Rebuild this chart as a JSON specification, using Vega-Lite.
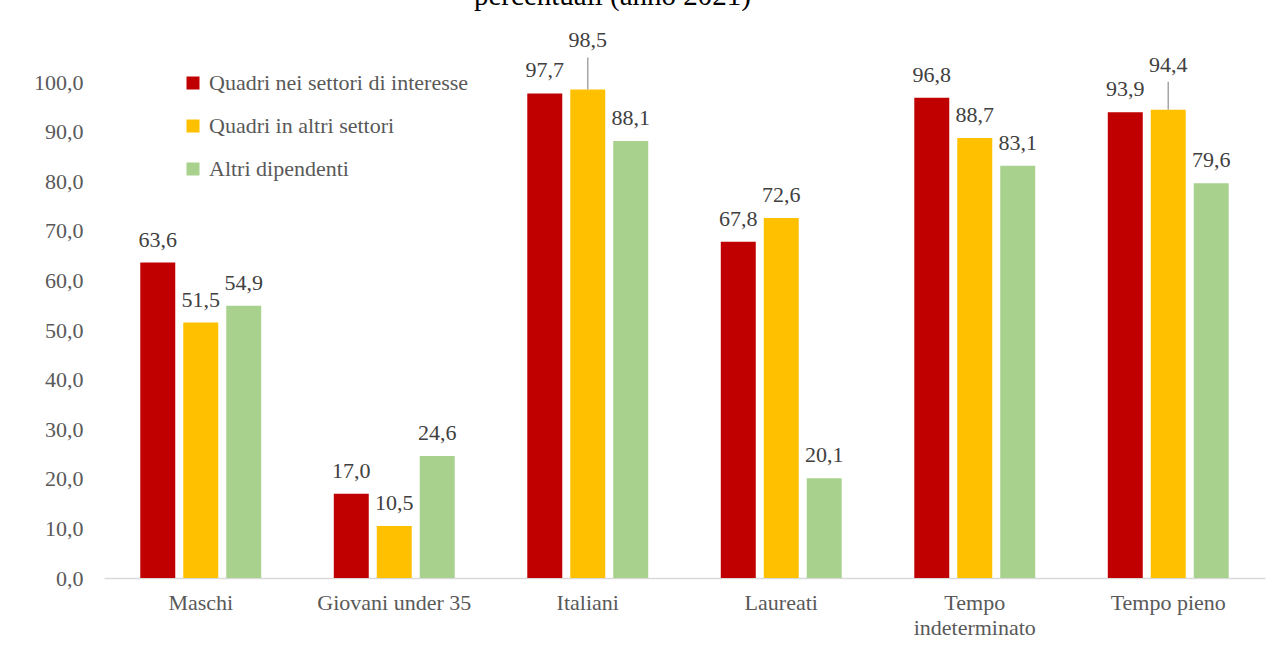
{
  "$schema": "https://vega.github.io/schema/vega-lite/v6.json",
  "autosize": "none",
  "width": 1161,
  "height": 496,
  "padding": {"left": 104, "top": 82, "right": 19, "bottom": 68},
  "background": "white",
  "title": {
    "text": "percentuali (anno 2021)",
    "font": "Liberation Serif",
    "fontSize": 29,
    "fontWeight": "normal",
    "color": "#000000",
    "anchor": "middle",
    "dx": -72,
    "dy": 25,
    "baseline": "alphabetic",
    "offset": 20
  },
  "config": {
    "locale": {"number": {"decimal": ",", "thousands": ".", "grouping": [3], "currency": ["€", ""]}},
    "view": {"stroke": null}
  },
  "data": {
    "values": [
      {"cat": "Maschi", "series": "Quadri nei settori di interesse", "value": 63.6},
      {"cat": "Maschi", "series": "Quadri in altri settori", "value": 51.5},
      {"cat": "Maschi", "series": "Altri dipendenti", "value": 54.9},
      {"cat": "Giovani under 35", "series": "Quadri nei settori di interesse", "value": 17.0},
      {"cat": "Giovani under 35", "series": "Quadri in altri settori", "value": 10.5},
      {"cat": "Giovani under 35", "series": "Altri dipendenti", "value": 24.6},
      {"cat": "Italiani", "series": "Quadri nei settori di interesse", "value": 97.7},
      {"cat": "Italiani", "series": "Quadri in altri settori", "value": 98.5},
      {"cat": "Italiani", "series": "Altri dipendenti", "value": 88.1},
      {"cat": "Laureati", "series": "Quadri nei settori di interesse", "value": 67.8},
      {"cat": "Laureati", "series": "Quadri in altri settori", "value": 72.6},
      {"cat": "Laureati", "series": "Altri dipendenti", "value": 20.1},
      {"cat": "Tempo indeterminato", "series": "Quadri nei settori di interesse", "value": 96.8},
      {"cat": "Tempo indeterminato", "series": "Quadri in altri settori", "value": 88.7},
      {"cat": "Tempo indeterminato", "series": "Altri dipendenti", "value": 83.1},
      {"cat": "Tempo pieno", "series": "Quadri nei settori di interesse", "value": 93.9},
      {"cat": "Tempo pieno", "series": "Quadri in altri settori", "value": 94.4},
      {"cat": "Tempo pieno", "series": "Altri dipendenti", "value": 79.6}
    ]
  },
  "encoding": {
    "x": {
      "field": "cat",
      "type": "nominal",
      "sort": null,
      "scale": {"paddingInner": 0.375, "paddingOuter": 0.1875},
      "axis": {
        "title": null,
        "labelAngle": 0,
        "labelFont": "Liberation Serif",
        "labelFontSize": 22,
        "labelColor": "#595959",
        "labelPadding": 14,
        "labelLineHeight": 25,
        "ticks": false,
        "domainColor": "#d9d9d9",
        "domainWidth": 1.5,
        "labelExpr": "datum.value == 'Tempo indeterminato' ? ['Tempo', 'indeterminato'] : datum.value"
      }
    },
    "xOffset": {
      "field": "series",
      "type": "nominal",
      "sort": ["Quadri nei settori di interesse", "Quadri in altri settori", "Altri dipendenti"],
      "scale": {"paddingInner": 0.186}
    },
    "y": {
      "field": "value",
      "type": "quantitative",
      "scale": {"domain": [0, 100]},
      "axis": {
        "title": null,
        "grid": false,
        "domain": false,
        "ticks": false,
        "values": [0, 10, 20, 30, 40, 50, 60, 70, 80, 90, 100],
        "format": ".1f",
        "labelFont": "Liberation Serif",
        "labelFontSize": 22,
        "labelColor": "#595959",
        "labelPadding": 21
      }
    }
  },
  "layer": [
    {
      "mark": {"type": "bar"},
      "encoding": {
        "color": {
          "field": "series",
          "type": "nominal",
          "sort": ["Quadri nei settori di interesse", "Quadri in altri settori", "Altri dipendenti"],
          "scale": {
            "domain": ["Quadri nei settori di interesse", "Quadri in altri settori", "Altri dipendenti"],
            "range": ["#C00000", "#FFC000", "#A9D18E"]
          },
          "legend": {
            "title": null,
            "orient": "none",
            "legendX": 78,
            "legendY": -10,
            "padding": 0,
            "symbolType": "square",
            "symbolSize": 169,
            "symbolStrokeWidth": 0,
            "labelFont": "Liberation Serif",
            "labelFontSize": 22,
            "labelColor": "#595959",
            "labelOffset": 5,
            "rowPadding": 21,
            "labelLimit": 400
          }
        }
      }
    },
    {
      "transform": [{"filter": "!((datum.cat == 'Italiani' || datum.cat == 'Tempo pieno') && datum.series == 'Quadri in altri settori')"}],
      "mark": {"type": "text", "baseline": "alphabetic", "dy": -16, "fontSize": 22, "color": "#404040", "font": "Liberation Serif"},
      "encoding": {"text": {"field": "value", "type": "quantitative", "format": ".1f"}}
    },
    {
      "transform": [{"filter": "datum.cat == 'Italiani' && datum.series == 'Quadri in altri settori'"}],
      "mark": {"type": "rule", "color": "#a6a6a6", "strokeWidth": 1.5, "y2Offset": -32},
      "encoding": {"y2": {"field": "value"}}
    },
    {
      "transform": [{"filter": "datum.cat == 'Tempo pieno' && datum.series == 'Quadri in altri settori'"}],
      "mark": {"type": "rule", "color": "#a6a6a6", "strokeWidth": 1.5, "y2Offset": -28},
      "encoding": {"y2": {"field": "value"}}
    },
    {
      "transform": [{"filter": "datum.cat == 'Italiani' && datum.series == 'Quadri in altri settori'"}],
      "mark": {"type": "text", "baseline": "alphabetic", "dy": -42, "fontSize": 22, "color": "#404040", "font": "Liberation Serif"},
      "encoding": {"text": {"field": "value", "type": "quantitative", "format": ".1f"}}
    },
    {
      "transform": [{"filter": "datum.cat == 'Tempo pieno' && datum.series == 'Quadri in altri settori'"}],
      "mark": {"type": "text", "baseline": "alphabetic", "dy": -38, "fontSize": 22, "color": "#404040", "font": "Liberation Serif"},
      "encoding": {"text": {"field": "value", "type": "quantitative", "format": ".1f"}}
    }
  ]
}
